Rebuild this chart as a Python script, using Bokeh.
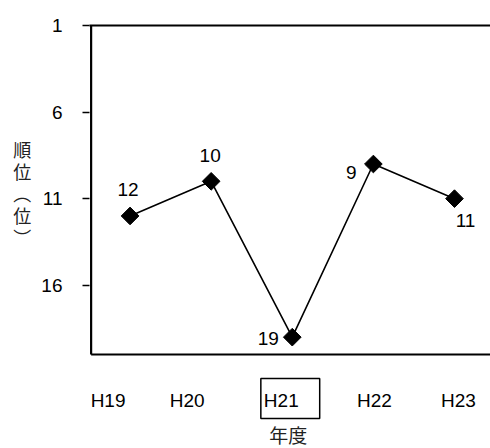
import numpy as np
from bokeh.plotting import figure
from bokeh.models import Range1d, FixedTicker, LinearAxis
from bokeh.core.properties import value
from bokeh.embed import file_html
from bokeh.resources import INLINE

# ---- data ----
YEARS = ["H19", "H20", "H21", "H22", "H23"]
RANKS = [12, 10, 19, 9, 11]
Y_TICKS = [1, 6, 11, 16]
RANK_TOP, RANK_BOTTOM = 1, 20
Y_TITLE = "順位（位）"
X_TITLE = "年度"
BOXED_YEAR = "H21"

# ---- styles ----
LATIN = "Liberation Sans"
CJK = "Noto Sans CJK JP"
LABEL_NUDGE = [(-2, -26), (-1, -26), (-24, 1), (-22, 8), (11, 22)]
YEAR_NUDGE = [-22, -24, -2, 1, 4]
X_LO, X_HI = -0.5, 4.444      # visible category span
BORDER_X = -0.48              # left border of the plot box
Y_EXTRA = 25.43               # room below the box for year labels

xs = list(range(len(YEARS)))

p = figure(width=490, height=448, output_backend="svg", toolbar_location=None,
           x_range=Range1d(X_LO, X_HI), y_range=Range1d(Y_EXTRA, RANK_TOP),
           x_axis_location=None,
           min_border_left=89, min_border_right=0, min_border_top=25,
           min_border_bottom=0)
p.outline_line_color = None
p.grid.visible = False
p.background_fill_color = "white"
p.border_fill_color = "white"

# y axis (left)
ya = p.left[0]
ya.ticker = FixedTicker(ticks=Y_TICKS)
ya.minor_tick_line_color = None
ya.major_tick_out = 7
ya.major_tick_in = 0
ya.major_tick_line_color = "black"
ya.major_tick_line_width = 1.5
ya.major_label_standoff = 20
ya.major_label_text_font = LATIN
ya.major_label_text_font_size = "19px"
ya.major_label_text_color = "black"
ya.axis_line_color = None
vert = {"（": "︵", "）": "︶"}
ya.axis_label = "\n".join([vert.get(ch, ch) for ch in Y_TITLE] + [""] * 4)
ya.axis_label_orientation = "horizontal"
ya.axis_label_text_font = CJK
ya.axis_label_text_font_size = "18px"
ya.axis_label_text_line_height = 0.85
ya.axis_label_text_font_style = "normal"
ya.axis_label_text_color = "#222222"
ya.axis_label_standoff = 7

# top border line
top = LinearAxis(ticker=FixedTicker(ticks=[]), major_label_text_font_size="0px",
                 major_tick_line_color=None, minor_tick_line_color=None,
                 major_tick_out=0, major_tick_in=0, major_label_standoff=0,
                 axis_line_color="black", axis_line_width=2)
p.add_layout(top, "above")

# left and bottom borders of the plot box
p.segment(x0=[BORDER_X, BORDER_X], y0=[RANK_TOP, RANK_BOTTOM],
          x1=[BORDER_X, X_HI + 1], y1=[RANK_BOTTOM, RANK_BOTTOM],
          line_color="black", line_width=2.2)

# series
p.line(xs, RANKS, line_color="black", line_width=1.6)
p.scatter(xs, RANKS, marker="square", angle=np.pi / 4, size=12.5,
          fill_color="black", line_color="black")

for i, v in enumerate(RANKS):
    dx, dy = LABEL_NUDGE[i]
    p.text(x=[i], y=[v], text=[str(v)], x_offset=dx, y_offset=dy,
           text_align="center", text_baseline="middle",
           text_font=value(LATIN), text_font_size="19px", text_color="black")

# year labels under the box
for i, c in enumerate(YEARS):
    style = dict(text_align="center", text_baseline="middle",
                 text_font=value(LATIN), text_font_size="19px", text_color="black")
    if c == BOXED_YEAR:
        p.text(x=[i], y=[RANK_BOTTOM], text=[c], x_offset=YEAR_NUDGE[i], y_offset=44,
               border_line_color="black", border_line_width=1.5,
               padding=dict(left=3, right=21, top=12, bottom=7), **style)
    else:
        p.text(x=[i], y=[RANK_BOTTOM], text=[c], x_offset=YEAR_NUDGE[i], y_offset=46,
               **style)

# x title
bi = YEARS.index(BOXED_YEAR)
p.text(x=[bi], y=[RANK_BOTTOM], text=[X_TITLE], x_offset=-4, y_offset=80,
       text_align="center", text_baseline="middle",
       text_font=value(CJK), text_font_size="19px", text_color="#222222")

open("out.html", "w").write(file_html(p, INLINE))
